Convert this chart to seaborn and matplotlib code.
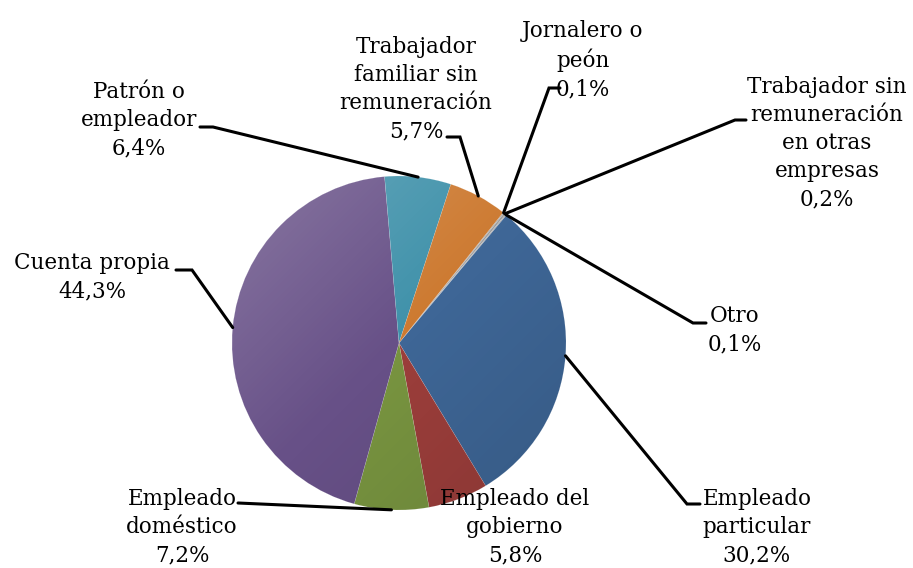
import numpy as np
import matplotlib
matplotlib.use("Agg")
import matplotlib.pyplot as plt
import seaborn as sns
from matplotlib.patches import Circle

# ---- data (clockwise order, starting just right of 12 o'clock) ----
categories = [
    "Jornalero o\npeón",
    "Trabajador sin\nremuneración\nen otras\nempresas",
    "Otro",
    "Empleado\nparticular",
    "Empleado del\ngobierno",
    "Empleado\ndoméstico",
    "Cuenta propia",
    "Patrón o\nempleador",
    "Trabajador\nfamiliar sin\nremuneración",
]
values = [0.1, 0.2, 0.1, 30.2, 5.8, 7.2, 44.3, 6.4, 5.7]
value_labels = ["0,1%", "0,2%", "0,1%", "30,2%", "5,8%", "7,2%", "44,3%", "6,4%", "5,7%"]

colors = ["#a3a3a3", "#9c9c9c", "#a8a8a8", "#3e6696", "#9c3e3b",
          "#789440", "#675087", "#3f91aa", "#cd7a31"]

# ---- layout (pixel coordinates, y measured from top) ----
W, H = 913, 568
CX, CY, R = 399, 343, 167
# text block centre, leader bend point, end of short horizontal tick
layout = [
    dict(text=(583, 60), bend=(549, 88), tick=(560, 88)),
    dict(text=(827, 143), bend=(735, 120), tick=(746, 120)),
    dict(text=(735, 330), bend=(693, 323), tick=(706, 323)),
    dict(text=(757, 527), bend=(687, 504), tick=(700, 504)),
    dict(text=(515, 527), bend=None, tick=None),
    dict(text=(182, 527), bend=(238, 503), tick=(238, 503)),
    dict(text=(92, 277), bend=(192, 270), tick=(176, 270)),
    dict(text=(139, 120), bend=(213, 127), tick=(200, 127)),
    dict(text=(416, 89), bend=(460, 137), tick=(447, 137)),
]

sns.set_theme(style="white")
plt.rcParams["font.family"] = ["DejaVu Serif"]

fig = plt.figure(figsize=(W / 100, H / 100), dpi=100)
ax = fig.add_axes([0, 0, 1, 1])


def p(x, y):
    return x, H - y


wedges, _ = ax.pie(values, colors=colors, startangle=90 - 38.6, counterclock=False,
                   center=p(CX, CY), radius=R, frame=True,
                   wedgeprops=dict(linewidth=0.3, edgecolor=(1, 1, 1, 0.25)))

# subtle lighting overlay (light top-left, darker bottom-right)
n = 300
gx, gy = np.meshgrid(np.linspace(-1, 1, n), np.linspace(1, -1, n))
t = (-(gx) + gy) / 2.0
rgba = np.zeros((n, n, 4))
light = np.clip(t, 0, 1)
dark = np.clip(-t, 0, 1)
rgba[..., :3] = np.where(light[..., None] > 0, 1.0, 0.0)
rgba[..., 3] = 0.22 * light + 0.12 * dark
cx, cy = p(CX, CY)
im = ax.imshow(rgba, extent=(cx - R, cx + R, cy - R, cy + R), zorder=3,
               interpolation="bilinear")
clip = Circle((cx, cy), R, transform=ax.transData)
im.set_clip_path(clip)

ax.set_xlim(0, W)
ax.set_ylim(0, H)
ax.set_aspect("equal")
ax.axis("off")

for w, cat, lab, lay in zip(wedges, categories, value_labels, layout):
    tx, ty = p(*lay["text"])
    ax.text(tx, ty, f"{cat}\n{lab}", ha="center", va="center", fontsize=15.5,
            linespacing=1.36, color="black", zorder=5)
    if lay["bend"] is None:
        continue
    mid = np.deg2rad((w.theta1 + w.theta2) / 2)
    ex, ey = cx + R * np.cos(mid), cy + R * np.sin(mid)
    bx, by = p(*lay["bend"])
    kx, ky = p(*lay["tick"])
    ax.plot([ex, bx, kx], [ey, by, ky], color="black", lw=2.2,
            solid_joinstyle="miter", zorder=4)

fig.savefig("out.png", dpi=100, facecolor="white")
